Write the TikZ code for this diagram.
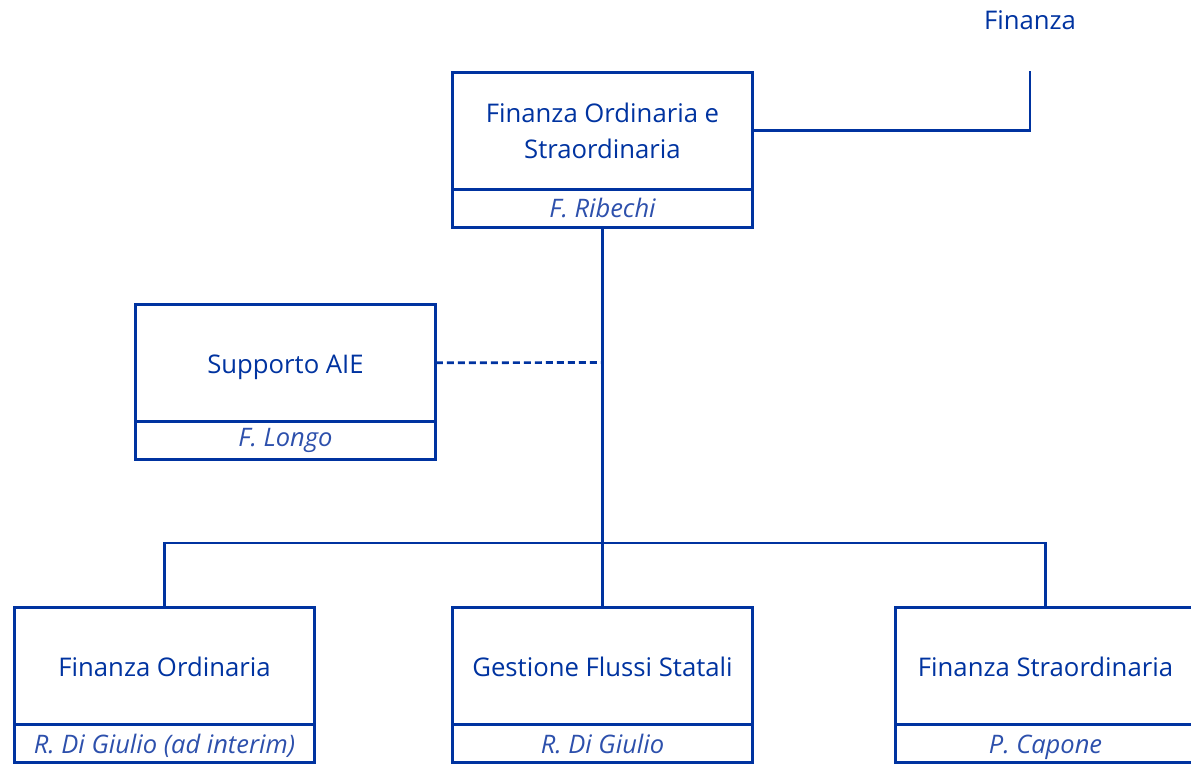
\documentclass[tikz,border=0pt]{standalone}
\usepackage{fontspec}
\setmainfont{Open Sans}
\usetikzlibrary{positioning}
\definecolor{orgblue}{RGB}{0,51,160}
\definecolor{nameblue}{RGB}{45,80,172}
\tikzset{
  boxbase/.style={draw=orgblue, line width=2.7pt, rectangle, minimum width=300.5pt, inner sep=0pt, outer sep=0pt},
  unit/.style={boxbase, minimum height=117pt,
    text=orgblue, font=\fontsize{25.7}{36}\selectfont, align=center},
  namebox/.style={boxbase, minimum height=38pt,
    text=nameblue, font=\fontsize{25.5}{30}\selectfont\itshape},
  link/.style={draw=orgblue, line width=2.7pt},
  dotlink/.style={draw=orgblue, line width=2.7pt, dash pattern=on 7pt off 4pt},
  lowtext/.style={text depth=3pt},
}
\begin{document}
\begin{tikzpicture}[x=1pt,y=-1pt]
\useasboundingbox (0,0) rectangle (1191,764);
% top
\node[unit] (top) at (602.5,130.75) {Finanza Ordinaria e\\Straordinaria};
\node[namebox, below=0pt of top] (topn) {F. Ribechi};
% Finanza
\node[text=orgblue, font=\fontsize{25.7}{30}\selectfont] (fin) at (1030,20) {Finanza};
\coordinate (finend) at (1030,71);
% Supporto
\node[unit, text height=22pt, text depth=0pt] (sup) at (285.5,362.75) {Supporto AIE};
\node[namebox, below=0pt of sup] (supn) {F. Longo};
% bottom
\node[unit, text height=21pt, text depth=0pt] (b1) at (164.5,665.75) {Finanza Ordinaria};
\node[namebox, below=0pt of b1, text height=21pt, text depth=0pt] (b1n) {R. Di Giulio (ad interim)};
\node[unit, text height=21pt, text depth=0pt] (b2) at (602.5,665.75) {Gestione Flussi Statali};
\node[namebox, below=0pt of b2, text height=21pt, text depth=0pt] (b2n) {R. Di Giulio};
\node[unit, text height=21pt, text depth=0pt] (b3) at (1045.5,665.75) {Finanza Straordinaria};
\node[namebox, below=0pt of b3, text height=21pt, text depth=0pt] (b3n) {P. Capone};
% connectors
\coordinate (bus) at (602.5,543);
\coordinate (dashend) at (602.5,362.5);
\draw[link] (top.east) -| (finend);
\draw[link] (topn.south) -- (b2.north);
\draw[dotlink] (sup.east) -- (dashend);
\draw[link] (b1.north) |- (bus) -| (b3.north);
\end{tikzpicture}
\end{document}
